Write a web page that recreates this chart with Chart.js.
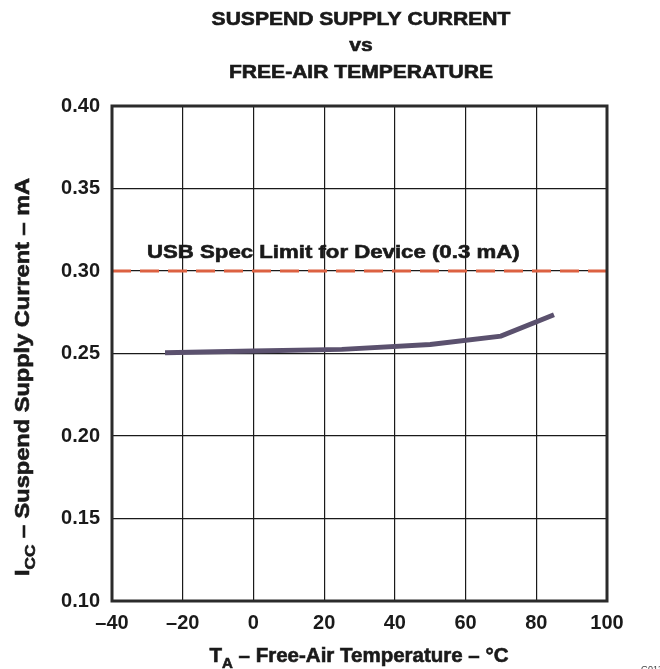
<!DOCTYPE html>
<html>
<head>
<meta charset="utf-8">
<script src="https://cdn.jsdelivr.net/npm/chart.js@4/dist/chart.umd.min.js"></script>
<style>
  html, body { margin: 0; padding: 0; background: #fff; }
  #wrap { width: 660px; height: 669px; position: relative; }
</style>
</head>
<body>
<div id="wrap"><canvas id="chart" width="660" height="669"></canvas></div>
<script>
// data
const temps = [-25, 0, 25, 50, 70, 85];
const icc = [0.2505, 0.2515, 0.2525, 0.2555, 0.2605, 0.2735];
const limit_x = [-40, 100];
const limit_y = [0.3, 0.3];
const x_ticks = [-40, -20, 0, 20, 40, 60, 80, 100];
const y_ticks = [0.10, 0.15, 0.20, 0.25, 0.30, 0.35, 0.40];

const FONT = '"Liberation Sans", Arial, Helvetica, sans-serif';

// draws bold text made of parts (some subscript), stretched by sx along the text
function draw_parts(ctx, parts, x, y, size, align, sx) {
  ctx.save();
  ctx.translate(x, y);
  ctx.scale(sx, 1);
  ctx.fillStyle = '#1a1a1a';
  ctx.strokeStyle = '#1a1a1a';
  ctx.lineWidth = 0.6;
  ctx.textBaseline = 'alphabetic';
  ctx.textAlign = 'left';
  let w = 0;
  parts.forEach(p => {
    ctx.font = `bold ${p.sub ? Math.round(size * 0.75) : size}px ${FONT}`;
    w += ctx.measureText(p.t).width;
  });
  let cx = align == 'center' ? -w / 2 : (align == 'right' ? -w : 0);
  parts.forEach(p => {
    ctx.font = `bold ${p.sub ? Math.round(size * 0.75) : size}px ${FONT}`;
    let yy = p.sub ? size * 0.3 : 0;
    ctx.fillText(p.t, cx, yy);
    ctx.strokeText(p.t, cx, yy);
    cx += ctx.measureText(p.t).width;
  });
  ctx.restore();
}

const text_plugin = {
  id: 'texts',
  afterDraw(chart) {
    const ctx = chart.ctx;
    const a = chart.chartArea;
    // frame
    ctx.save();
    ctx.strokeStyle = '#2b2b2b';
    ctx.lineWidth = 3;
    ctx.strokeRect(a.left, a.top, a.right - a.left, a.bottom - a.top);
    ctx.restore();

    draw_parts(ctx, [{t: 'SUSPEND SUPPLY CURRENT'}], 361, 25, 18, 'center', 1.17);
    draw_parts(ctx, [{t: 'vs'}], 361, 51, 18, 'center', 1.17);
    draw_parts(ctx, [{t: 'FREE-AIR TEMPERATURE'}], 361, 78, 18, 'center', 1.17);

    draw_parts(ctx, [{t: 'USB Spec Limit for Device (0.3 mA)'}], 147, 258, 18.5, 'left', 1.2);

    draw_parts(ctx, [{t: 'T'}, {t: 'A', sub: true}, {t: ' – Free-Air Temperature – °C'}], 359, 662, 20.5, 'center', 1.0);

    ctx.save();
    ctx.translate(29, 377);
    ctx.rotate(-Math.PI / 2);
    draw_parts(ctx, [{t: 'I'}, {t: 'CC', sub: true}, {t: ' – Suspend Supply Current – mA'}], 0, 0, 20.5, 'center', 1.15);
    ctx.restore();

    ctx.save();
    ctx.font = `9px ${FONT}`;
    ctx.fillStyle = '#444';
    ctx.fillText('G013', 641, 672);
    ctx.restore();
  }
};

new Chart(document.getElementById('chart'), {
  type: 'line',
  data: {
    datasets: [
      {
        data: temps.map((t, i) => ({x: t, y: icc[i]})),
        borderColor: '#5b516e',
        borderWidth: 5,
        pointRadius: 0,
        tension: 0,
        fill: false
      },
      {
        data: limit_x.map((t, i) => ({x: t, y: limit_y[i]})),
        borderColor: '#dc6141',
        borderWidth: 3,
        borderDash: [19, 9],
        pointRadius: 0,
        fill: false
      }
    ]
  },
  options: {
    responsive: false,
    animation: false,
    layout: { padding: { left: 0, top: 106, right: 53, bottom: 0 } },
    plugins: { legend: { display: false }, tooltip: { enabled: false } },
    scales: {
      x: {
        type: 'linear',
        min: -40, max: 100,
        afterFit: s => { s.height = 68; },
        afterBuildTicks: s => { s.ticks = x_ticks.map(v => ({value: v})); },
        grid: { color: '#1a1a1a', lineWidth: 1.2, drawTicks: false },
        border: { display: false },
        ticks: {
          padding: 10,
          color: '#1a1a1a',
          font: { family: FONT, size: 20, weight: 'bold' },
          callback: v => v < 0 ? '–' + Math.abs(v) : String(v)
        }
      },
      y: {
        min: 0.10, max: 0.40,
        afterFit: s => { s.width = 112; },
        afterBuildTicks: s => { s.ticks = y_ticks.map(v => ({value: v})); },
        grid: { color: '#1a1a1a', lineWidth: 1.2, drawTicks: false },
        border: { display: false },
        ticks: {
          padding: 12,
          color: '#1a1a1a',
          font: { family: FONT, size: 20, weight: 'bold' },
          callback: v => v.toFixed(2)
        }
      }
    }
  },
  plugins: [text_plugin]
});
</script>
</body>
</html>
